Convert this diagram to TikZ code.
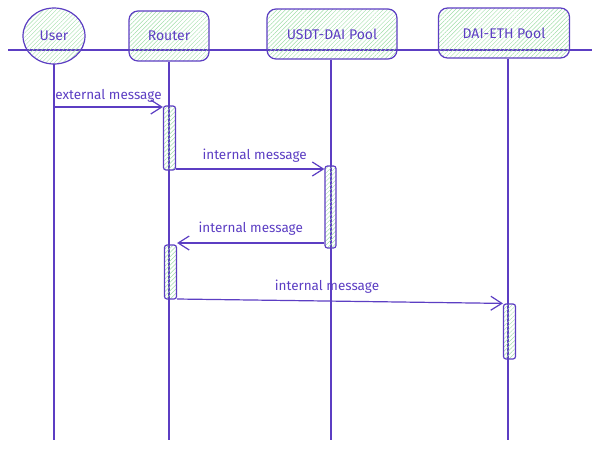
\documentclass[tikz,border=0pt]{standalone}
\usepackage{fontspec}
\setmainfont{Fira Sans}
\usetikzlibrary{shapes.geometric,arrows.meta,patterns.meta}
\definecolor{ink}{RGB}{92,62,195}
\definecolor{hatch}{RGB}{160,222,168}
\begin{document}
\begin{tikzpicture}[x=1pt,y=-1pt,
  ink line/.style={draw=ink,line width=1.2pt},
  hatched/.style={pattern={Lines[angle=45,distance=3pt,line width=0.45pt]},pattern color=hatch},
  actor/.style={ink line,hatched,rounded corners=9pt,minimum height=50pt,font=\fontsize{14}{16}\selectfont,text=ink,inner sep=2pt},
  userbox/.style={ink line,hatched,ellipse,minimum width=62pt,minimum height=56pt,font=\fontsize{14}{16}\selectfont,text=ink,inner sep=0pt},
  actbox/.style={ink line,hatched,rounded corners=2.5pt,minimum width=12pt,inner sep=0pt},
  msg/.style={ink line,-{Straight Barb[length=11pt,width=14pt,line width=1.2pt]}},
  lbl/.style={font=\fontsize{13.5}{15}\selectfont,text=ink,inner sep=1pt},
  lifeline/.style={ink line}]
\useasboundingbox (0,0) rectangle (600,448);
% top line
\coordinate (hl) at (8,50);
\coordinate (hr) at (592,50);
\draw[ink line] (hl) -- (hr);
% participants
\node[userbox] (user) at (54,36) {User};
\node[actor,minimum width=80pt] (router) at (169,36) {Router};
\node[actor,minimum width=130pt] (usdt) at (332,34) {USDT-DAI Pool};
\node[actor,minimum width=131pt] (daieth) at (504,33) {DAI-ETH Pool};
% lifeline ends
\coordinate (ue) at (54,440);
\coordinate (re) at (169,440);
\coordinate (se) at (331,440);
\coordinate (de) at (508,440);
\draw[lifeline] (user.south) -- (ue);
\draw[lifeline] (router.south) -- (re);
\draw[lifeline] (usdt.south -| se) -- (se);
\draw[lifeline] (daieth.south -| de) -- (de);
% activations
\node[actbox,minimum height=64pt] (a1) at (169.5,138) {};
\node[actbox,minimum height=82pt,minimum width=11pt] (a2) at (330.5,207) {};
\node[actbox,minimum height=54pt] (a3) at (170.5,272) {};
\node[actbox,minimum height=55pt] (a4) at (509.5,331.5) {};
% messages
\coordinate (m1s) at (54,107);
\draw[msg] (m1s) -- (m1s -| a1.west) node[lbl,pos=0.5,above=3pt] {external message};
\coordinate (m2s) at (176,169);
\draw[msg] (a1.east |- m2s) -- (a2.west |- m2s) node[lbl,pos=0.53,above=5pt] {internal message};
\coordinate (m3s) at (325,243);
\draw[msg] (a2.west |- m3s) -- (a3.east |- m3s) node[lbl,pos=0.5,above=6pt] {internal message};
\coordinate (m4s) at (177,299);
\draw[msg] (a3.east |- m4s) -- (a4.north west) node[lbl,pos=0.46,above=6pt] {internal message};
\end{tikzpicture}
\end{document}
